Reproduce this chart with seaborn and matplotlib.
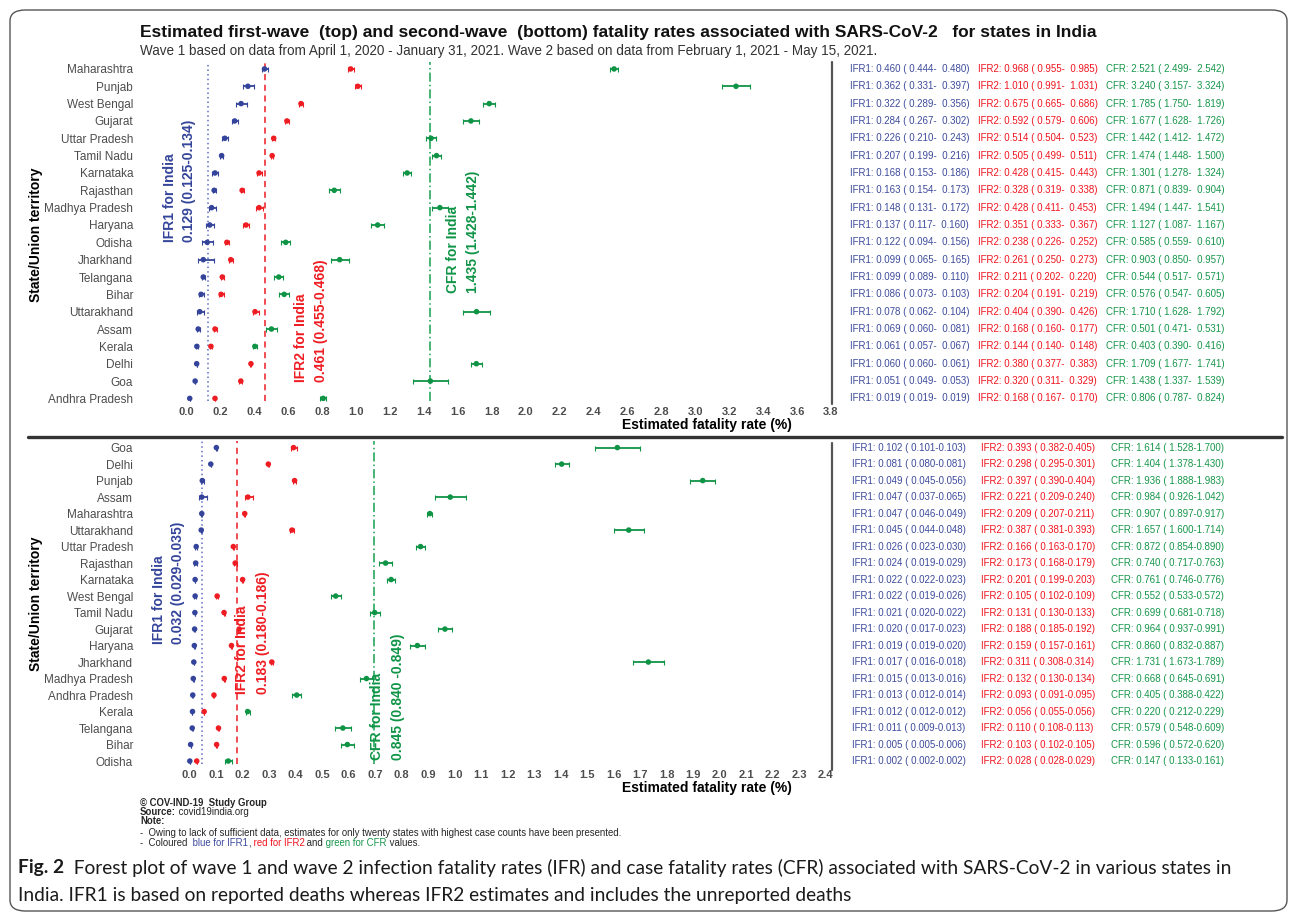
import numpy as np
import pandas as pd
import matplotlib
matplotlib.use('Agg')
import matplotlib.pyplot as plt
import matplotlib.transforms as mtransforms
import seaborn as sns
from matplotlib import font_manager
from matplotlib.patches import FancyBboxPatch
from matplotlib.lines import Line2D

# ---------------- wave 1 (top panel) ----------------
states_w1 = ['Maharashtra', 'Punjab', 'West Bengal', 'Gujarat', 'Uttar Pradesh', 'Tamil Nadu',
             'Karnataka', 'Rajasthan', 'Madhya Pradesh', 'Haryana', 'Odisha', 'Jharkhand',
             'Telangana', 'Bihar', 'Uttarakhand', 'Assam', 'Kerala', 'Delhi', 'Goa', 'Andhra Pradesh']
ifr1_w1 = [0.460, 0.362, 0.322, 0.284, 0.226, 0.207, 0.168, 0.163, 0.148, 0.137,
           0.122, 0.099, 0.099, 0.086, 0.078, 0.069, 0.061, 0.060, 0.051, 0.019]
ifr1_w1_lo = [0.444, 0.331, 0.289, 0.267, 0.210, 0.199, 0.153, 0.154, 0.131, 0.117,
              0.094, 0.065, 0.089, 0.073, 0.062, 0.060, 0.057, 0.060, 0.049, 0.019]
ifr1_w1_hi = [0.480, 0.397, 0.356, 0.302, 0.243, 0.216, 0.186, 0.173, 0.172, 0.160,
              0.156, 0.165, 0.110, 0.103, 0.104, 0.081, 0.067, 0.061, 0.053, 0.019]
ifr2_w1 = [0.968, 1.010, 0.675, 0.592, 0.514, 0.505, 0.428, 0.328, 0.428, 0.351,
           0.238, 0.261, 0.211, 0.204, 0.404, 0.168, 0.144, 0.380, 0.320, 0.168]
ifr2_w1_lo = [0.955, 0.991, 0.665, 0.579, 0.504, 0.499, 0.415, 0.319, 0.411, 0.333,
              0.226, 0.250, 0.202, 0.191, 0.390, 0.160, 0.140, 0.377, 0.311, 0.167]
ifr2_w1_hi = [0.985, 1.031, 0.686, 0.606, 0.523, 0.511, 0.443, 0.338, 0.453, 0.367,
              0.252, 0.273, 0.220, 0.219, 0.426, 0.177, 0.148, 0.383, 0.329, 0.170]
cfr_w1 = [2.521, 3.240, 1.785, 1.677, 1.442, 1.474, 1.301, 0.871, 1.494, 1.127,
          0.585, 0.903, 0.544, 0.576, 1.710, 0.501, 0.403, 1.709, 1.438, 0.806]
cfr_w1_lo = [2.499, 3.157, 1.750, 1.628, 1.412, 1.448, 1.278, 0.839, 1.447, 1.087,
             0.559, 0.850, 0.517, 0.547, 1.628, 0.471, 0.390, 1.677, 1.337, 0.787]
cfr_w1_hi = [2.542, 3.324, 1.819, 1.726, 1.472, 1.500, 1.324, 0.904, 1.541, 1.167,
             0.610, 0.957, 0.571, 0.605, 1.792, 0.531, 0.416, 1.741, 1.539, 0.824]
india_w1 = [0.129, 0.461, 1.435]
india_w1_text = ['0.129 (0.125-0.134)', '0.461 (0.455-0.468)', '1.435 (1.428-1.442)']

# ---------------- wave 2 (bottom panel) ----------------
states_w2 = ['Goa', 'Delhi', 'Punjab', 'Assam', 'Maharashtra', 'Uttarakhand', 'Uttar Pradesh',
             'Rajasthan', 'Karnataka', 'West Bengal', 'Tamil Nadu', 'Gujarat', 'Haryana',
             'Jharkhand', 'Madhya Pradesh', 'Andhra Pradesh', 'Kerala', 'Telangana', 'Bihar', 'Odisha']
ifr1_w2 = [0.102, 0.081, 0.049, 0.047, 0.047, 0.045, 0.026, 0.024, 0.022, 0.022,
           0.021, 0.020, 0.019, 0.017, 0.015, 0.013, 0.012, 0.011, 0.005, 0.002]
ifr1_w2_lo = [0.101, 0.080, 0.045, 0.037, 0.046, 0.044, 0.023, 0.019, 0.022, 0.019,
              0.020, 0.017, 0.019, 0.016, 0.013, 0.012, 0.012, 0.009, 0.005, 0.002]
ifr1_w2_hi = [0.103, 0.081, 0.056, 0.065, 0.049, 0.048, 0.030, 0.029, 0.023, 0.026,
              0.022, 0.023, 0.020, 0.018, 0.016, 0.014, 0.012, 0.013, 0.006, 0.002]
ifr2_w2 = [0.393, 0.298, 0.397, 0.221, 0.209, 0.387, 0.166, 0.173, 0.201, 0.105,
           0.131, 0.188, 0.159, 0.311, 0.132, 0.093, 0.056, 0.110, 0.103, 0.028]
ifr2_w2_lo = [0.382, 0.295, 0.390, 0.209, 0.207, 0.381, 0.163, 0.168, 0.199, 0.102,
              0.130, 0.185, 0.157, 0.308, 0.130, 0.091, 0.055, 0.108, 0.102, 0.028]
ifr2_w2_hi = [0.405, 0.301, 0.404, 0.240, 0.211, 0.393, 0.170, 0.179, 0.203, 0.109,
              0.133, 0.192, 0.161, 0.314, 0.134, 0.095, 0.056, 0.113, 0.105, 0.029]
cfr_w2 = [1.614, 1.404, 1.936, 0.984, 0.907, 1.657, 0.872, 0.740, 0.761, 0.552,
          0.699, 0.964, 0.860, 1.731, 0.668, 0.405, 0.220, 0.579, 0.596, 0.147]
cfr_w2_lo = [1.528, 1.378, 1.888, 0.926, 0.897, 1.600, 0.854, 0.717, 0.746, 0.533,
             0.681, 0.937, 0.832, 1.673, 0.645, 0.388, 0.212, 0.548, 0.572, 0.133]
cfr_w2_hi = [1.700, 1.430, 1.983, 1.042, 0.917, 1.714, 0.890, 0.763, 0.776, 0.572,
             0.718, 0.991, 0.887, 1.789, 0.691, 0.422, 0.229, 0.609, 0.620, 0.161]
india_w2 = [0.049, 0.180, 0.697]   # where the reference lines sit in the picture
india_w2_text = ['0.032 (0.029-0.035)', '0.183 (0.180-0.186)', '0.845 (0.840 -0.849)']

measures = ['IFR1', 'IFR2', 'CFR']
colors = {'IFR1': '#34449a', 'IFR2': '#ee1d23', 'CFR': '#0f9446'}
text_colors = {'IFR1': '#3d4b9c', 'IFR2': '#f0141e', 'CFR': '#16964a'}
line_colors = ['#5d6cc4', '#ee1d23', '#16a050']
line_styles = [(0, (1, 2)), (0, (4, 3)), (0, (6, 2, 1, 2))]

W, H = 1295, 919


def fx(x):
    return x / W


def fy(y):
    return 1 - y / H


def long_table(states, series):
    rows = []
    for name, (est, lo, hi) in zip(measures, series):
        for i, s in enumerate(states):
            rows.append(dict(state=s, pos=i, measure=name, est=est[i], lo=lo[i], hi=hi[i]))
    return pd.DataFrame(rows)


df1 = long_table(states_w1, [(ifr1_w1, ifr1_w1_lo, ifr1_w1_hi),
                             (ifr2_w1, ifr2_w1_lo, ifr2_w1_hi),
                             (cfr_w1, cfr_w1_lo, cfr_w1_hi)])
df2 = long_table(states_w2, [(ifr1_w2, ifr1_w2_lo, ifr1_w2_hi),
                             (ifr2_w2, ifr2_w2_lo, ifr2_w2_hi),
                             (cfr_w2, cfr_w2_lo, cfr_w2_hi)])

sns.set_style('white')
plt.rcParams['font.family'] = ['Liberation Sans', 'DejaVu Sans']
avail = {f.name for f in font_manager.fontManager.ttflist}
narrow = 'Liberation Sans Narrow' if 'Liberation Sans Narrow' in avail else 'Liberation Sans'
cap_font = 'Lato' if 'Lato' in avail else 'Liberation Sans'

fig = plt.figure(figsize=(W / 100, H / 100), dpi=100)
renderer = fig.canvas.get_renderer()


def fit(t, width_px):
    w = t.get_window_extent(renderer).width
    t.set_fontsize(t.get_fontsize() * width_px / w)
    return t


def panel(box, df, states, xlim, ticks, ylim, lines):
    left, top, right, bottom = box
    ax = fig.add_axes([fx(left), fy(bottom), fx(right - left), (bottom - top) / H])
    for m in measures:
        d = df[df.measure == m]
        ax.errorbar(d.est, d.pos, xerr=[d.est - d.lo, d.hi - d.est], fmt='none',
                    ecolor=colors[m], elinewidth=1.3, capsize=1.8, capthick=0.8, zorder=2)
    sns.scatterplot(data=df, x='est', y='pos', hue='measure', palette=colors, s=16,
                    linewidth=0, legend=False, ax=ax, zorder=3)
    for x, c, ls in zip(lines, line_colors, line_styles):
        ax.axvline(x, color=c, ls=ls, lw=1.1, zorder=1)
    ax.set_xlim(*xlim)
    ax.set_ylim(*ylim)
    ax.set_yticks(range(len(states)), states)
    ax.set_xticks(ticks, [f'{v:.1f}' for v in ticks])
    ax.set_xlabel('')
    ax.set_ylabel('')
    sns.despine(ax=ax, left=True, bottom=True)
    ax.tick_params(axis='y', length=3, width=0.8, color='#666666', pad=2,
                   labelsize=8.5, labelcolor='#4d4d4d')
    ax.tick_params(axis='x', length=3, width=0.8, color='#666666', pad=1.5,
                   labelsize=8, labelcolor='#4d4d4d')
    for lab in ax.get_xticklabels():
        lab.set_fontweight('bold')
    tr = mtransforms.blended_transform_factory(fig.transFigure, ax.transData)
    return ax, tr


def india_notes(notes, texts):
    for (xa, xb, yb), name, val in zip(notes, measures, texts):
        c = colors[name]
        fig.text(fx(xa), fy(yb), f'{name} for India', rotation=90, ha='center', va='bottom',
                 color=c, fontsize=10, fontweight='bold')
        fig.text(fx(xb), fy(yb), val, rotation=90, ha='center', va='bottom',
                 color=c, fontsize=10, fontweight='bold')


def table(ax, tr, xs, series, fmt):
    for m, x0, (est, lo, hi) in zip(measures, xs, series):
        for i in range(len(est)):
            ax.text(fx(x0), i, fmt.format(m, est[i], lo[i], hi[i]), transform=tr,
                    fontsize=7, color=text_colors[m], va='center', ha='left')


# ---------- top panel ----------
ax1, tr1 = panel((140, 62, 832, 401), df1, states_w1,
                 ((140 - 186.5) / 169.6, (832 - 186.5) / 169.6),
                 np.round(np.arange(0, 3.81, 0.2), 1), (19.15, -0.4), india_w1)
india_notes([(170, 189, 242), (301, 321, 382), (453, 473, 293)], india_w1_text)
table(ax1, tr1, [850.5, 977.5, 1106],
      [(ifr1_w1, ifr1_w1_lo, ifr1_w1_hi), (ifr2_w1, ifr2_w1_lo, ifr2_w1_hi),
       (cfr_w1, cfr_w1_lo, cfr_w1_hi)], '{}: {:.3f} ( {:.3f}-  {:.3f})')

# ---------- bottom panel ----------
ax2, tr2 = panel((140, 441, 830, 764), df2, states_w2,
                 ((140 - 189.3) / 265.2, (830 - 189.3) / 265.2),
                 np.round(np.arange(0, 2.41, 0.1), 1), (19.18, -0.4), india_w2)
india_notes([(159, 178, 644), (242, 263, 694), (377, 398, 760)], india_w2_text)
table(ax2, tr2, [852.5, 981.5, 1111],
      [(ifr1_w2, ifr1_w2_lo, ifr1_w2_hi), (ifr2_w2, ifr2_w2_lo, ifr2_w2_hi),
       (cfr_w2, cfr_w2_lo, cfr_w2_hi)], '{}: {:.3f} ( {:.3f}-{:.3f})')

# axis titles
for yc in [235, 604]:
    fig.text(fx(36), fy(yc), 'State/Union territory', rotation=90, ha='center', va='center',
             fontsize=10, fontweight='bold', color='black')
for yc in [425, 788]:
    fig.text(fx(707), fy(yc), 'Estimated fatality rate (%)', ha='center', va='center',
             fontsize=10, fontweight='bold', color='black')

# separators and frame
fig.add_artist(Line2D([fx(832), fx(832)], [fy(62), fy(404)], color='#555555', lw=1.6))
fig.add_artist(Line2D([fx(832), fx(832)], [fy(443), fy(770)], color='#555555', lw=1.6))
fig.add_artist(Line2D([fx(28), fx(1282)], [fy(437), fy(437)], color='#333333', lw=2.4))
fig.add_artist(FancyBboxPatch((fx(10), fy(911)), fx(1277), (911 - 10) / H,
                              boxstyle='round,pad=0,rounding_size=0.012',
                              transform=fig.transFigure, fill=False, ec='#555555', lw=1.0))

# title block
t = fig.text(fx(140), fy(32), 'Estimated first-wave  (top) and second-wave  (bottom) fatality rates '
             'associated with SARS-CoV-2   for states in India', family=[narrow, 'Liberation Sans'],
             fontsize=13, fontweight='bold', color='#111111', va='center', ha='left')
fit(t, 953)
t = fig.text(fx(140), fy(51), 'Wave 1 based on data from April 1, 2020 - January 31, 2021. '
             'Wave 2 based on data from February 1, 2021 - May 15, 2021.',
             family=[narrow, 'Liberation Sans'], fontsize=10, color='#333333', va='center', ha='left')
fit(t, 740)


def run(x, y, parts, size, family=None):
    for txt, kw in parts:
        kw = dict(kw)
        if family:
            kw['family'] = family
        tt = fig.text(fx(x), fy(y), txt, fontsize=size, va='center', ha='left', **kw)
        x += tt.get_window_extent(renderer).width
    return x


fs = 6.9
run(140, 803, [('© COV-IND-19  Study Group', dict(fontweight='bold'))], fs)
run(140, 812, [('Source:', dict(fontweight='bold')), (' covid19india.org', {})], fs)
run(140, 821, [('Note:', dict(fontweight='bold'))], fs)
run(140, 833, [('-  Owing to lack of sufficient data, estimates for only twenty states with highest '
                'case counts have been presented.', {})], fs)
run(140, 843, [('-  Coloured ', {}), (' blue for IFR1', dict(color=text_colors['IFR1'])),
               (',', {}), (' red for IFR2', dict(color=text_colors['IFR2'])), (' and', {}),
               (' green for CFR', dict(color=text_colors['CFR'])), (' values.', {})], fs)

# caption
cap1 = [('Fig. 2', dict(fontweight='bold', color='#1a1a1a')),
        ('  Forest plot of wave 1 and wave 2 infection fatality rates (IFR) and case fatality rates '
         '(CFR) associated with SARS-CoV-2 in various states in', dict(color='#1a1a1a'))]
probe = fig.text(0, 0, cap1[0][0] + cap1[1][0], fontsize=12, family=cap_font)
cfs = 12 * (1232 - 18) / probe.get_window_extent(renderer).width
probe.remove()
run(18, 868, cap1, cfs, family=cap_font)
run(18, 895, [('India. IFR1 is based on reported deaths whereas IFR2 estimates and includes the '
               'unreported deaths', dict(color='#1a1a1a'))], cfs, family=cap_font)

fig.savefig('out.png', dpi=100)
